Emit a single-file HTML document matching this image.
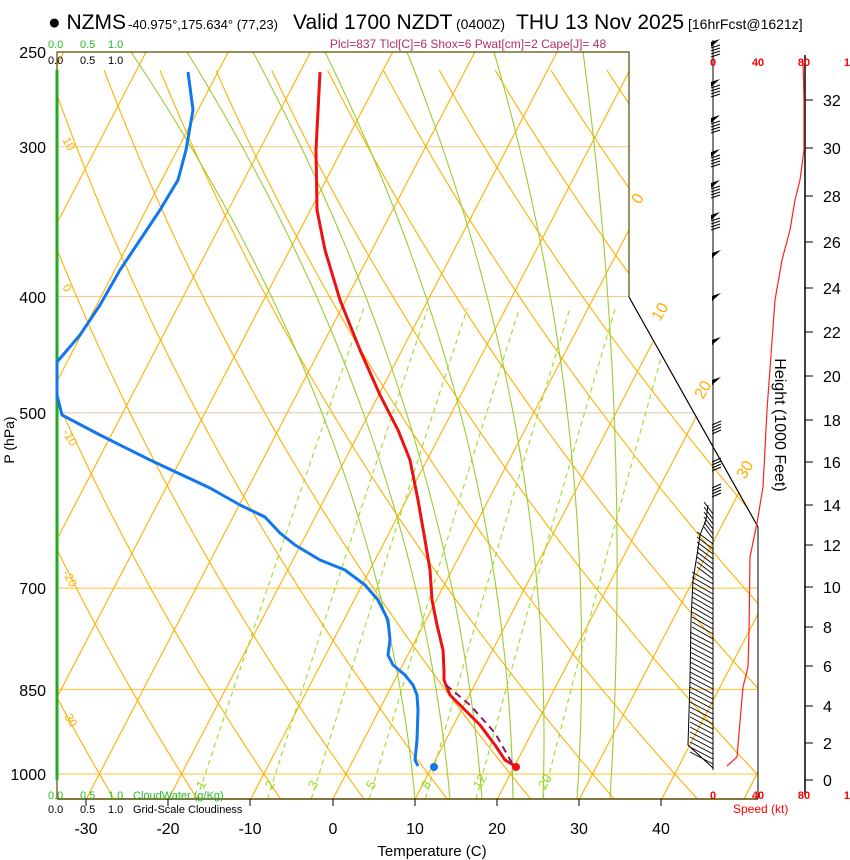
<!DOCTYPE html>
<html><head><meta charset="utf-8"><style>
body{margin:0;background:#fff;width:850px;height:860px;overflow:hidden;font-family:"Liberation Sans",sans-serif}
svg{position:absolute;left:0;top:0}
</style></head><body>
<svg id="s" width="850" height="860" xmlns="http://www.w3.org/2000/svg" font-family="Liberation Sans, sans-serif">
<defs><clipPath id="c"><polygon points="57,52 629,52 629,297 758,527 758,799 57,799"/></clipPath></defs>
<g id="grid" clip-path="url(#c)"></g>
<g id="fg"></g>
<text x="48" y="29" font-size="21">● NZMS</text>
<text x="128" y="29" font-size="13">-40.975°,175.634° (77,23)</text>
<text x="293" y="29" font-size="21">Valid 1700 NZDT</text>
<text x="456" y="29" font-size="14">(0400Z)</text>
<text x="516" y="29" font-size="21">THU 13 Nov 2025</text>
<text x="688" y="29" font-size="14">[16hrFcst@1621z]</text>
<text x="468" y="48" font-size="12" fill="#b0306a" text-anchor="middle">Plcl=837 Tlcl[C]=6 Shox=6 Pwat[cm]=2 Cape[J]= 48</text>
<g font-size="11" fill="#22bb22"><text x="48" y="48">0.0</text><text x="80" y="48">0.5</text><text x="108" y="48">1.0</text>
<text x="48" y="799">0.0</text><text x="80" y="799">0.5</text><text x="108" y="799">1.0</text><text x="133" y="799">CloudWater (g/Kg)</text></g>
<g font-size="11" fill="#000"><text x="48" y="64">0.0</text><text x="80" y="64">0.5</text><text x="108" y="64">1.0</text>
<text x="48" y="813">0.0</text><text x="80" y="813">0.5</text><text x="108" y="813">1.0</text><text x="133" y="813">Grid-Scale Cloudiness</text></g>
<g font-size="11" fill="#ff0000" font-weight="bold" text-anchor="middle"><text x="713" y="66">0</text><text x="758" y="66">40</text><text x="804" y="66">80</text><text x="850" y="66">12</text>
<text x="713" y="799">0</text><text x="758" y="799">40</text><text x="804" y="799">80</text><text x="850" y="799">12</text></g>
<text x="733" y="813" font-size="12" fill="#ff0000">Speed (kt)</text>
<g font-size="16" text-anchor="end"><text x="46" y="58">250</text><text x="46" y="153">300</text><text x="46" y="303">400</text><text x="46" y="419">500</text><text x="46" y="594">700</text><text x="46" y="696">850</text><text x="46" y="780">1000</text></g>
<text transform="translate(14,440) rotate(-90)" font-size="14" text-anchor="middle">P (hPa)</text>
<g font-size="16" text-anchor="middle"><text x="86" y="834">-30</text><text x="168" y="834">-20</text><text x="250" y="834">-10</text><text x="333" y="834">0</text><text x="415" y="834">10</text><text x="497" y="834">20</text><text x="579" y="834">30</text><text x="661" y="834">40</text></g>
<text x="432" y="856" font-size="15" text-anchor="middle">Temperature (C)</text>
<text transform="translate(775,425) rotate(90)" font-size="16" text-anchor="middle">Height (1000 Feet)</text>
</svg>
<script>
var NS="http://www.w3.org/2000/svg";
function el(par,tag,a){var e=document.createElementNS(NS,tag);for(var k in a)e.setAttribute(k,a[k]);par.appendChild(e);return e;}
var G=document.getElementById('grid'),F=document.getElementById('fg');
function Y(p){return 774-521*Math.log(1000/p);}
function X(T,p){return 333+8.22*T+0.52*(799-Y(p));}
function poly(par,pts,st){var s=pts.map(function(q){return q[0].toFixed(1)+","+q[1].toFixed(1)}).join(" ");st.points=s;st.fill=st.fill||"none";return el(par,"polyline",st);}
var pb=1049,pt=250;
[[300,"#f0c880",629],[400,"#f0c880",629],[500,"#d8c8a8",694],[700,"#ffc030",758],[850,"#ffc030",758],[1000,"#ffc030",758]].forEach(function(a){el(G,"line",{x1:57,x2:a[2],y1:Y(a[0]),y2:Y(a[0]),stroke:a[1],"stroke-width":1});});
for(var T=-120;T<=50;T+=10){poly(G,[[X(T,pb),Y(pb)],[X(T,pt),Y(pt)]],{stroke:"#ffb000","stroke-width":1.1});}
for(var th=-40;th<=160;th+=10){var pts=[];for(var p=pb;p>=pt;p-=10){pts.push([X((th+273.15)*Math.pow(p/1000,0.286)-273.15,p),Y(p)]);}poly(G,pts,{stroke:"#ffb000","stroke-width":1.1});}
[1,2,3,5,8,12,20].forEach(function(w){var pts=[];for(var p=pb;p>=400;p-=10){var e=w*p/(622+w),l=Math.log(e/6.112),td=243.5*l/(17.67-l);pts.push([X(td,p),Y(p)]);}poly(G,pts,{stroke:"#99dd22","stroke-width":1.1,"stroke-dasharray":"5,4"});});
// moist adiabats (fitted): top(y52), y300, bottom(y799)
[[131,273,415],[187,318,450],[253,367,482],[325,427,513],[407,488,543],[494,551,577],[583,608,610]].forEach(function(m){
 var y0=52,y1=300,y2=799,pts=[];
 for(var y=52;y<=799;y+=8){var L0=(y-y1)*(y-y2)/((y0-y1)*(y0-y2)),L1=(y-y0)*(y-y2)/((y1-y0)*(y1-y2)),L2=(y-y0)*(y-y1)/((y2-y0)*(y2-y1));pts.push([m[0]*L0+m[1]*L1+m[2]*L2,y]);}
 pts.push([m[2],799]);
 poly(G,pts,{stroke:"#99cc33","stroke-width":1.1});});
el(F,"polyline",{points:"57,799 57,52 629,52 629,297",fill:"none",stroke:"#5a4a00","stroke-width":1.2});
el(F,"line",{x1:629,y1:297,x2:758,y2:527,stroke:"#000","stroke-width":1.2});
el(F,"line",{x1:57,y1:799,x2:758,y2:799,stroke:"#5a4a00","stroke-width":1.5});
el(F,"line",{x1:57,y1:70,x2:57,y2:780,stroke:"#22aa22","stroke-width":3});
[86,168,250,333,415,497,579,661].forEach(function(x){el(F,"line",{x1:x,x2:x,y1:799,y2:806,stroke:"#000"});});
[["0",640,205],["10",660,322],["20",703,400],["30",745,480]].forEach(function(a){el(F,"text",{x:a[1],y:a[2],"font-size":16,fill:"#ffb000",transform:"rotate(-60 "+a[1]+" "+a[2]+")"}).textContent=a[0];});
[["10",62,140],["0",62,287],["-10",62,432],["-20",62,573],["-30",62,713]].forEach(function(a){el(F,"text",{x:a[1],y:a[2],"font-size":12,fill:"#ffb000",transform:"rotate(60 "+a[1]+" "+a[2]+")"}).textContent=a[0];});
[["1",203,790],["2",272,790],["3",315,790],["5",373,790],["8",428,790],["12",480,790],["20",545,790]].forEach(function(a){el(F,"text",{x:a[1],y:a[2],"font-size":13,fill:"#99dd22",transform:"rotate(-60 "+a[1]+" "+a[2]+")"}).textContent=a[0];});
el(F,"line",{x1:805,y1:55,x2:805,y2:795,stroke:"#000","stroke-width":1.5});
var hy=[780,743,706,666,627,587,545,505,462,420,376,332,288,242,196,148,100];
hy.forEach(function(y,i){el(F,"line",{x1:805,x2:813,y1:y,y2:y,stroke:"#000"});var t=el(F,"text",{x:823,y:y+6,"font-size":16});t.textContent=i*2;});
el(F,"line",{x1:713,y1:40,x2:713,y2:770,stroke:"#000","stroke-width":1});
el(F,"line",{x1:758,y1:527,x2:758,y2:799,stroke:"#000","stroke-width":1});
[42,82,118,152,183,215].forEach(function(y){el(F,"polygon",{points:"711,"+y+" 720,"+(y-3)+" 711,"+(y+5),fill:"#000"});for(var k=0;k<4;k++)el(F,"line",{x1:711,y1:y+6+k*3,x2:720,y2:y+3+k*3,stroke:"#000"});});
[253,296,340,380].forEach(function(y){el(F,"polygon",{points:"712,"+y+" 721,"+(y-3)+" 712,"+(y+5),fill:"#000"});});
[425,462,488].forEach(function(y){for(var k=0;k<4;k++)el(F,"line",{x1:712,y1:y+k*3,x2:721,y2:y-4+k*3,stroke:"#000"});});
var lp=[[708,505],[706,520],[700,535],[697,555],[693,580],[691,620],[690,680],[688,745],[713,768]];
poly(F,lp,{stroke:"#000","stroke-width":1});
for(var y=512;y<=762;y+=5){var xl=y<540?704:(y<580?697:(y<640?692:690));el(F,"line",{x1:xl,y1:y-10,x2:713,y2:y+2,stroke:"#000","stroke-width":0.9});}
poly(F,[[803,60],[804,100],[804,150],[800,180],[795,200],[790,230],[782,260],[775,300],[767,410],[763,487],[757,523],[750,557],[749,633],[748,667],[743,687],[739,733],[737,757],[727,766]],{stroke:"#ff2020","stroke-width":1.2});
poly(F,[[320,72],[316,150],[317,210],[325,250],[340,300],[360,350],[380,395],[398,430],[410,460],[418,500],[425,540],[430,570],[432,600],[437,625],[443,650],[444,670],[444,680],[450,695],[465,710],[480,725],[495,745],[505,760],[515,766]],{stroke:"#ee1111","stroke-width":3,"stroke-linejoin":"round"});
poly(F,[[188,72],[193,110],[186,150],[178,180],[160,210],[140,240],[120,270],[100,305],[80,335],[57,362],[57,395],[62,415],[100,435],[150,460],[210,488],[240,505],[265,517],[280,533],[295,545],[320,560],[345,570],[365,585],[378,600],[388,620],[390,640],[388,655],[393,665],[405,675],[413,685],[417,695],[418,710],[417,740],[415,760],[418,766]],{stroke:"#1177ee","stroke-width":3,"stroke-linejoin":"round"});
poly(F,[[446,685],[470,705],[495,733],[512,763]],{stroke:"#8a1a6a","stroke-width":2,"stroke-dasharray":"7,5"});
el(F,"circle",{cx:434,cy:767,r:4,fill:"#1177ee"});
el(F,"circle",{cx:516,cy:767,r:4,fill:"#ee1111"});
</script>
</body></html>
